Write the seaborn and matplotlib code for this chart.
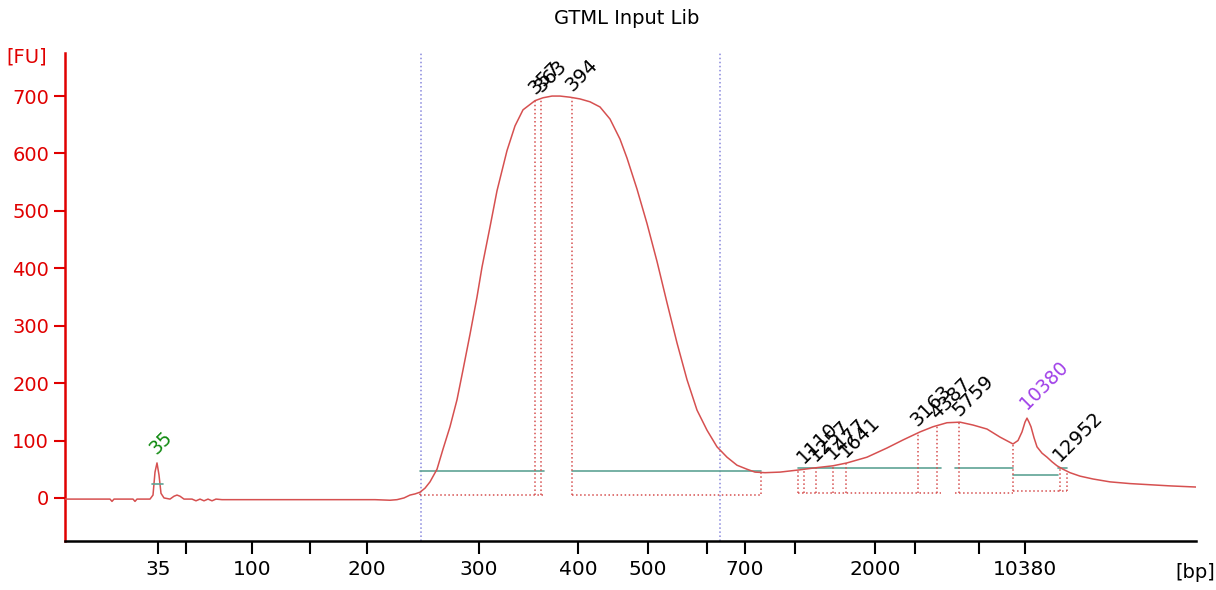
"""
Electropherogramme Bioanalyzer - GTML Input Lib
"""
import numpy as np
import pandas as pd
import matplotlib
matplotlib.use("Agg")
import matplotlib.pyplot as plt
import seaborn as sns

# ladder : taille (bp) vs position de migration
ladder_bp = [35, 50, 100, 150, 200, 300, 400, 500, 600, 700, 1000, 2000, 3000, 7000, 10380]
ladder_pos = [158, 186, 252, 310, 367, 479, 578, 648, 707, 745, 795, 875, 915, 979, 1025]
tick_labels = ["35", "", "100", "", "200", "300", "400", "500", "", "700", "", "2000", "", "", "10380"]

# trace (position de migration, fluorescence FU)
trace_pos = [65, 110, 112, 114, 133, 135, 137, 150, 153, 155, 157, 159, 161, 164,
             170, 174, 177, 180, 184, 192, 196, 200, 204, 208, 212, 216, 222,
             260, 300, 340, 375, 390, 397, 404, 410, 415, 420, 425, 430, 437,
             443, 450, 457, 463, 470, 477, 482, 490, 497, 507, 515, 523, 535,
             543, 552, 560, 570, 580, 590, 600, 610, 620, 627, 637, 647, 657,
             667, 677, 687, 697, 707, 717, 727, 737, 747, 755, 765, 780, 790,
             800, 813, 833, 847, 867, 887, 903, 920, 933, 947, 960, 973, 987,
             1000, 1013, 1018, 1022, 1025, 1027, 1029, 1031, 1034, 1037, 1042,
             1047, 1052, 1057, 1063, 1070, 1080, 1093, 1110, 1130, 1150, 1170, 1196]
trace_fu = [-2, -2, -6, -2, -2, -6, -2, -2, 5, 45, 61, 40, 8, 0,
            -2, 3, 5, 3, -2, -2, -5, -2, -5, -2, -5, -2, -3,
            -3, -3, -3, -3, -4, -3, 0, 5, 7, 10, 17, 28, 50,
            85, 124, 171, 223, 285, 350, 402, 472, 535, 605, 648, 676, 692,
            697, 700, 700, 698, 695, 690, 681, 660, 625, 592, 538, 478, 412,
            340, 270, 206, 153, 118, 89, 71, 57, 50, 45, 44, 45, 47,
            49, 52, 56, 61, 71, 87, 101, 115, 124, 131, 132, 127, 120,
            106, 94, 100, 115, 132, 139, 132, 124, 105, 89, 78,
            71, 63, 56, 50, 44, 38, 33, 28, 25, 23, 21, 19]

# pics detectes
peak_bp = [357, 363, 394, 1110, 1257, 1477, 1641, 3163, 4387, 5759, 12952]
lower_marker_bp = 35
upper_marker_bp = 10380
lower_marker_line = (152, 163, 24)

# regions / lignes de base
region_edges = [420, 761, 798, 1013, 1067]
base_x0 = [420, 572, 798, 955, 1013, 1058]
base_x1 = [544, 761, 941, 1013, 1058, 1067]
base_fu = [47, 47, 52, 52, 40, 52]
floor_fu = [5, 5, 8, 8, 12, 12]
cursor_pos = [421, 720]

RED = "#e00000"
TRACE = "#d65050"
GREEN = "#5fa395"


def bp_to_pos(bp):
    bp = np.atleast_1d(np.asarray(bp, float))
    pos = np.interp(bp, ladder_bp, ladder_pos)
    hi = bp > ladder_bp[-1]
    slope = (ladder_pos[-1] - ladder_pos[-2]) / (ladder_bp[-1] - ladder_bp[-2])
    pos[hi] = ladder_pos[-1] + (bp[hi] - ladder_bp[-1]) * slope
    return pos


def fu_at(x):
    return np.interp(x, trace_pos, trace_fu)


sns.set_theme(style="white")
plt.rcParams["font.family"] = ["DejaVu Sans"]

fig = plt.figure(figsize=(12.16, 5.9), dpi=100)
ax = fig.add_axes([65 / 1216, 49 / 590, 1131 / 1216, 488 / 590])

df = pd.DataFrame({"pos": trace_pos, "fu": trace_fu})
sns.lineplot(data=df, x="pos", y="fu", ax=ax, color=TRACE, lw=1.1,
             estimator=None, sort=False, zorder=3)

# curseurs
for c in cursor_pos:
    ax.axvline(c, color="#8888dd", ls=":", lw=1.1, zorder=1)

# lignes de base (vert) et planchers (pointilles)
for x0, x1, b, f in zip(base_x0, base_x1, base_fu, floor_fu):
    ax.plot([x0, x1], [b, b], color=GREEN, lw=1.2, zorder=2)
    ax.plot([x0, x1], [f, f], color=TRACE, ls=":", lw=1.1, zorder=2)

# verticales pointillees : bords des regions et pics
peak_pos = bp_to_pos(peak_bp)
vlines = list(region_edges) + list(peak_pos)
for x in vlines:
    f = np.interp(x, base_x0 + [base_x1[-1]], floor_fu + [floor_fu[-1]])
    ax.plot([x, x], [f, fu_at(x)], color=TRACE, ls=":", lw=1.1, zorder=2)

# marqueur bas
lx0, lx1, lf = lower_marker_line
ax.plot([lx0, lx1], [lf, lf], color=GREEN, lw=1.2, zorder=4)

# etiquettes des pics
for bp, p in zip(peak_bp, peak_pos):
    ax.annotate(str(bp), (p, fu_at(p)), xytext=(0, 4), textcoords="offset points",
                rotation=45, rotation_mode="anchor", ha="left", va="baseline",
                fontsize=14, color="black")
for bp, col, x in [(lower_marker_bp, "#108a10", 157), (upper_marker_bp, "#a040e8", 1027)]:
    ax.annotate(str(bp), (x, fu_at(x)), xytext=(0, 6), textcoords="offset points",
                rotation=45, rotation_mode="anchor", ha="left", va="baseline",
                fontsize=13.5, color=col)

ax.set_xlim(65, 1196)
ax.set_ylim(-75, 775)
ax.set_xticks(ladder_pos)
ax.set_xticklabels(tick_labels)
ax.set_yticks(range(0, 800, 100))
ax.set_xlabel("")
ax.set_ylabel("")
ax.tick_params(axis="y", colors=RED, labelcolor=RED, labelsize=14,
               length=8, width=1.5, pad=3.5, left=True)
ax.tick_params(axis="x", colors="black", labelsize=14.5, length=9, width=1.5,
               pad=5, bottom=True)
for s in ["top", "right"]:
    ax.spines[s].set_visible(False)
ax.spines["left"].set_color(RED)
ax.spines["left"].set_linewidth(1.8)
ax.spines["bottom"].set_color("black")
ax.spines["bottom"].set_linewidth(1.8)
ax.grid(False)

ax.text(-0.034, 0.992, "[FU]", transform=ax.transAxes, ha="center", va="center",
        fontsize=14, color=RED, clip_on=False)
ax.text(0.999, -0.064, "[bp]", transform=ax.transAxes, ha="center", va="center",
        fontsize=14, color="black", clip_on=False)
fig.text(0.5156, 0.969, "GTML Input Lib", ha="center", va="center", fontsize=14,
         color="black")

fig.savefig("out.png", dpi=100)
plt.close(fig)
